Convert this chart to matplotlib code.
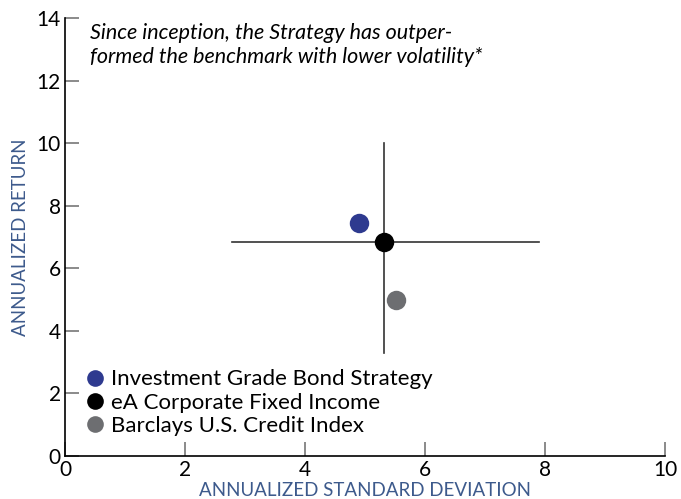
import matplotlib.pyplot as plt
from matplotlib.lines import Line2D

# data
names = ['Investment Grade Bond Strategy', 'eA Corporate Fixed Income', 'Barclays U.S. Credit Index']
std_dev = [4.9, 5.32, 5.52]
ann_return = [7.44, 6.84, 4.98]
colors = ['#2e3a8f', '#000000', '#6d6e71']

# crosshair through the peer universe
cross_x = 5.32
cross_y = 6.84
cross_xrange = [2.78, 7.9]
cross_yrange = [3.29, 10.0]

plt.rcParams['font.family'] = ['Lato', 'DejaVu Sans']

fig = plt.figure(figsize=(6.81, 4.99), dpi=100)
ax = fig.add_axes([0.0955, 0.086, 0.881, 0.878])

ax.plot(cross_xrange, [cross_y, cross_y], color='#333333', lw=1.2, zorder=1)
ax.plot([cross_x, cross_x], cross_yrange, color='#333333', lw=1.2, zorder=1)

for i in range(len(names)):
    ax.plot(std_dev[i], ann_return[i], 'o', color=colors[i], ms=14, mec='none', zorder=3)

ax.set_xlim(0, 10)
ax.set_ylim(0, 14)
ax.set_xticks(range(0, 11, 2))
ax.set_yticks(range(0, 15, 2))
for s in ['top', 'right']:
    ax.spines[s].set_visible(False)
ax.spines['left'].set_linewidth(1.2)
ax.spines['bottom'].set_linewidth(1.2)
ax.tick_params(direction='in', length=10, width=1.2, color='#777777', labelsize=15, pad=3)

ax.set_xlabel('ANNUALIZED STANDARD DEVIATION', color='#3d5a8c', fontsize=13.5, labelpad=1)
ax.set_ylabel('ANNUALIZED RETURN', color='#3d5a8c', fontsize=13.5)
ax.yaxis.set_label_coords(-0.06, 0.5)

ax.text(0.42, 13.85, 'Since inception, the Strategy has outper-\nformed the benchmark with lower volatility*',
        fontsize=15.5, style='italic', va='top', ha='left', linespacing=1.25)

handles = [Line2D([], [], marker='o', ls='none', color=c, mec='none', ms=12) for c in colors]
ax.legend(handles, names, loc='lower left', bbox_to_anchor=(0.0, 0.01), frameon=False,
          fontsize=16, handletextpad=0.05, handlelength=1.3, labelspacing=0.15, borderaxespad=0.3)

plt.savefig('out.png')
